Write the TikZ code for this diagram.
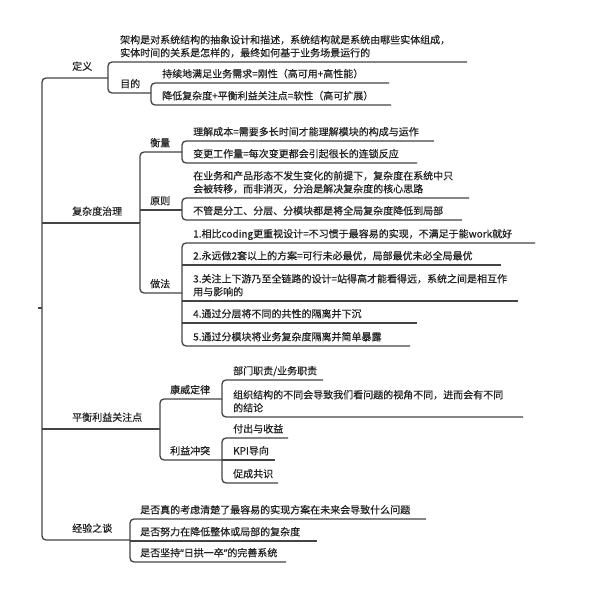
\documentclass[tikz,border=0pt]{standalone}
\usepackage{fontspec}
\newfontfamily\cjk[FakeBold=0.35]{Noto Sans CJK SC}
\newfontfamily\lat[FakeBold=0.35]{Noto Sans}
\definecolor{linec}{HTML}{444444}
\definecolor{textc}{HTML}{222222}
\newcommand\mmnode[6]{%
  \node[txt, anchor=base west] (#1) at (#2, #3-#5) {#6};
  \coordinate (#1-e) at (#4, #3);
}
\newcommand\twol[2]{\begin{tabular}[b]{@{}l@{}}#1\\#2\end{tabular}}
\begin{document}
\begin{tikzpicture}[x=1pt,y=-1pt,
  conn/.style={draw=linec, line width=1.3pt, rounded corners=4pt},
  txt/.style={inner sep=0pt, text=textc, font=\cjk\fontsize{10}{13}\selectfont}]
\useasboundingbox[fill=white] (0,0) rectangle (600,599);

% root
\coordinate (R) at (38,308);
\coordinate (R-e) at (42,308);

% level 1
\mmnode{def}{72}{78}{108}{8}{定义}
\mmnode{cx}{72}{223}{140}{8}{复杂度治理}
\mmnode{bal}{72}{429}{160}{8}{平衡利益关注点}
\mmnode{exp}{72}{540}{130}{8}{经验之谈}

% 定义
\mmnode{a1}{120}{62}{467}{5.5}{\twol{架构是对系统结构的抽象设计和描述，系统结构就是系统由哪些实体组成，}{实体时间的关系是怎样的，最终如何基于业务场景运行的}}
\mmnode{a2}{120}{93}{151}{5.5}{目的}
\mmnode{b1}{162}{83}{389}{5.5}{持续地满足业务需求=刚性（高可用+高性能）}
\mmnode{b2}{162}{105}{391}{5.5}{降低复杂度+平衡利益关注点=软性（高可扩展）}

% 复杂度治理
\mmnode{c1}{150}{152}{182}{5.5}{衡量}
\mmnode{c2}{150}{210}{182}{5.5}{原则}
\mmnode{c3}{150}{293}{182}{5.5}{做法}
\mmnode{d1}{193}{141}{434}{5.5}{理解成本=需要多长时间才能理解模块的构成与运作}
\mmnode{d2}{193}{163}{417}{5.5}{变更工作量=每次变更都会引起很长的连锁反应}
\mmnode{d3}{193}{198}{469}{5.5}{\twol{在业务和产品形态不发生变化的前提下，复杂度在系统中只}{会被转移，而非消灭，分治是解决复杂度的核心思路}}
\mmnode{d4}{193}{220}{462}{5.5}{不管是分工、分层、分模块都是将全局复杂度降低到局部}
\mmnode{d5}{193}{243}{535}{5.5}{1.相比coding更重视设计=不习惯于最容易的实现，不满足于能work就好}
\mmnode{d6}{193}{265}{501}{5.5}{2.永远做2套以上的方案=可行未必最优，局部最优未必全局最优}
\mmnode{d7}{193}{301}{518}{5.5}{\twol{3.关注上下游乃至全链路的设计=站得高才能看得远，系统之间是相互作}{用与影响的}}
\mmnode{d8}{193}{323}{417}{5.5}{4.通过分层将不同的共性的隔离并下沉}
\mmnode{d9}{193}{346}{410}{5.5}{5.通过分模块将业务复杂度隔离并简单暴露}

% 平衡利益关注点
\mmnode{e1}{170}{399}{222}{5.5}{康威定律}
\mmnode{e2}{170}{460}{222}{5.5}{利益冲突}
\mmnode{f1}{233}{380}{323}{5.5}{部门职责/业务职责}
\mmnode{f2}{233}{417}{523}{5.5}{\twol{组织结构的不同会导致我们看问题的视角不同，进而会有不同}{的结论}}
\mmnode{f3}{233}{438}{288}{5.5}{付出与收益}
\mmnode{f4}{233}{460}{275}{5.5}{KPI导向}
\mmnode{f5}{233}{483}{278}{5.5}{促成共识}

% 经验之谈
\mmnode{g1}{140}{519}{426}{5.5}{是否真的考虑清楚了最容易的实现方案在未来会导致什么问题}
\mmnode{g2}{140}{541}{317}{5.5}{是否努力在降低整体或局部的复杂度}
\mmnode{g3}{140}{562}{286}{5.5}{是否坚持{\lat“}日拱一卒{\lat”}的完善系统}

% connectors
\draw[conn] (R) -- (R-e);
\draw[conn] (def-e) -- (def-e -| R-e) -- (exp-e -| R-e) -- (exp-e);
\draw[conn] (R-e |- cx-e) -- (cx-e);
\draw[conn] (R-e |- bal-e) -- (bal-e);

\draw[conn] (a1-e) -- (a1-e -| def-e) -- (a2-e -| def-e) -- (a2-e);
\draw[conn] (b1-e) -- (b1-e -| a2-e) -- (b2-e -| a2-e) -- (b2-e);

\draw[conn] (c1-e) -- (c1-e -| cx-e) -- (c3-e -| cx-e) -- (c3-e);
\draw[conn] (cx-e |- c2-e) -- (c2-e);
\draw[conn] (d1-e) -- (d1-e -| c1-e) -- (d2-e -| c1-e) -- (d2-e);
\draw[conn] (d3-e) -- (d3-e -| c2-e) -- (d4-e -| c2-e) -- (d4-e);
\draw[conn] (d5-e) -- (d5-e -| c3-e) -- (d9-e -| c3-e) -- (d9-e);
\draw[conn] (c3-e |- d6-e) -- (d6-e);
\draw[conn] (c3-e |- d7-e) -- (d7-e);
\draw[conn] (c3-e |- d8-e) -- (d8-e);

\draw[conn] (e1-e) -- (e1-e -| bal-e) -- (e2-e -| bal-e) -- (e2-e);
\draw[conn] (f1-e) -- (f1-e -| e1-e) -- (f2-e -| e1-e) -- (f2-e);
\draw[conn] (f3-e) -- (f3-e -| e2-e) -- (f5-e -| e2-e) -- (f5-e);
\draw[conn] (e2-e |- f4-e) -- (f4-e);

\draw[conn] (g1-e) -- (g1-e -| exp-e) -- (g3-e -| exp-e) -- (g3-e);
\draw[conn] (exp-e |- g2-e) -- (g2-e);
\end{tikzpicture}
\end{document}
